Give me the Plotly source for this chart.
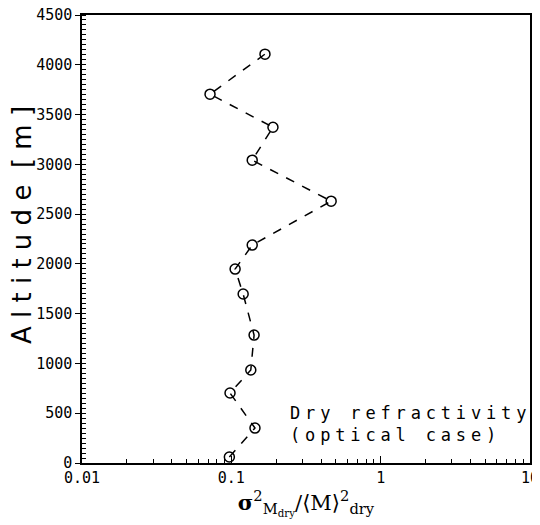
import plotly.graph_objects as go

# Data
altitude_m = [60, 351, 703, 934, 1285, 1697, 1948, 2189, 2630, 3042, 3373, 3705, 4107]
norm_variance = [0.097, 0.144, 0.098, 0.135, 0.142, 0.120, 0.106, 0.138, 0.466, 0.138, 0.190, 0.072, 0.168]

x_tick_vals = [0.01, 0.1, 1, 10]
x_tick_text = ["0.01", "0.1", "1", "10"]
x_minor_vals = [m * d for d in [0.01, 0.1, 1] for m in range(2, 10)]
y_tick_vals = list(range(0, 4501, 500))

label_lines = ["Dry refractivity", "(optical case)"]

GAP = '<span style="font-size:8px"> </span>'


def spaced(s):
    return GAP.join(s)


fig = go.Figure()
fig.add_trace(go.Scatter(
    x=norm_variance, y=altitude_m,
    mode="lines+markers",
    line=dict(color="black", width=1.5, dash="dash"),
    marker=dict(symbol="circle-open", size=10, color="black", line=dict(width=1.5)),
    showlegend=False,
))

mono = dict(family="DejaVu Sans Mono", size=15, color="black")

fig.update_layout(
    width=532, height=517,
    margin=dict(l=74, r=10, t=7, b=62),
    paper_bgcolor="white", plot_bgcolor="white",
    xaxis=dict(
        type="log", range=[-2, 1], automargin=False,
        tickvals=x_tick_vals, ticktext=x_tick_text,
        ticks="inside", ticklen=7, tickwidth=1, tickcolor="black",
        minor=dict(tickvals=x_minor_vals, ticks="inside", ticklen=4, tickcolor="black"),
        showline=True, linecolor="black", linewidth=1.5, mirror=True,
        showgrid=False, zeroline=False,
        tickfont=mono, ticklabeloverflow="allow",
        title=dict(
            text="<b>σ</b><sup>2</sup><sub>M<sub>dry</sub></sub>/⟨M⟩<sup>2</sup><sub>dry</sub>",
            font=dict(family="DejaVu Serif", size=21, color="black"),
            standoff=2,
        ),
    ),
    yaxis=dict(
        range=[0, 4500], automargin=False,
        tickvals=y_tick_vals,
        ticks="outside", ticklen=5, tickwidth=1, tickcolor="black",
        minor=dict(dtick=50, ticks="inside", ticklen=4, tickcolor="black"),
        showline=True, linecolor="black", linewidth=1.5, mirror=True,
        showgrid=False, zeroline=False,
        tickfont=mono, ticklabeloverflow="allow",
    ),
    annotations=[
        dict(
            x=-0.135, y=0.53, xref="paper", yref="paper",
            xanchor="center", yanchor="middle", showarrow=False,
            text="A l t i t u d e  [ m ]", textangle=-90,
            font=dict(family="DejaVu Sans", size=26, color="black"),
        ),
        dict(
            x=0.995, y=0.036, xref="paper", yref="paper",
            xanchor="right", yanchor="bottom", showarrow=False, align="left",
            text="<br>".join(spaced(t) for t in label_lines),
            font=dict(family="DejaVu Sans Mono", size=17, color="black"),
        ),
    ],
)

fig.write_html("out.html")
